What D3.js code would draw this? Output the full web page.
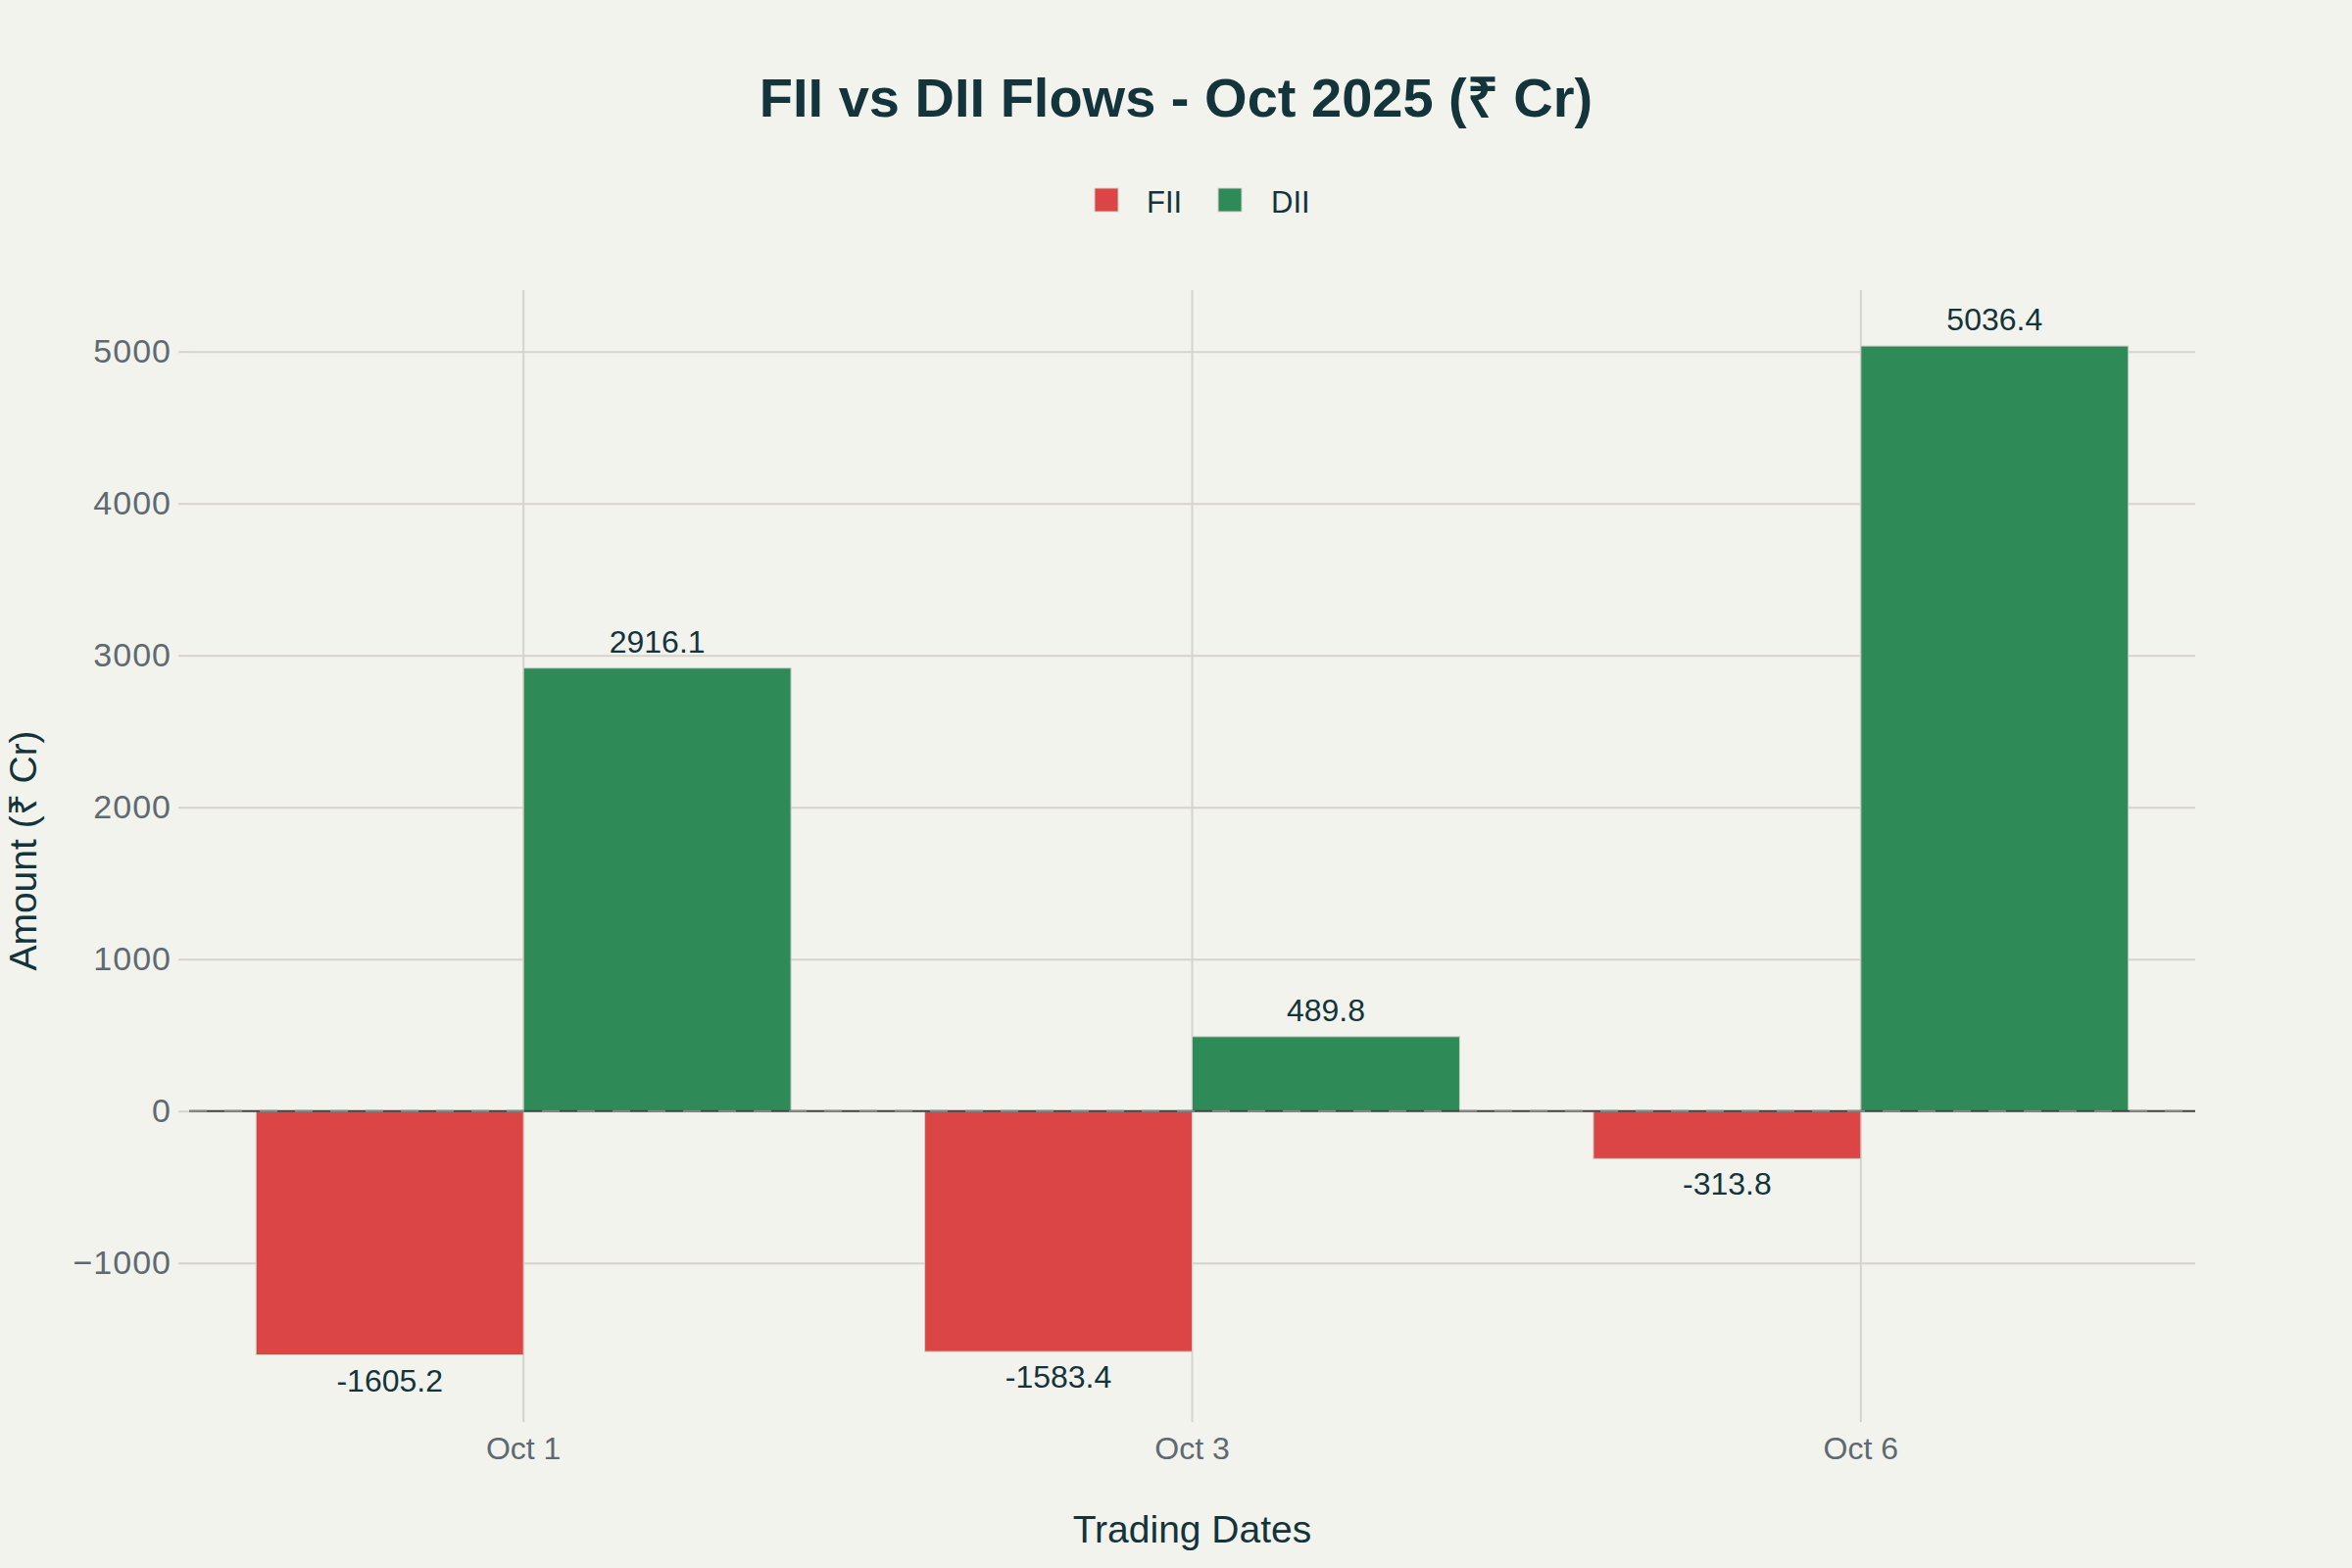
<!DOCTYPE html>
<html>
<head>
<meta charset="utf-8">
<script src="https://cdn.jsdelivr.net/npm/d3@7"></script>
<style>
  html, body { margin: 0; padding: 0; background: #F3F3EE; }
  svg { display: block; }
  text { font-family: "Liberation Sans", Arial, sans-serif; }
</style>
</head>
<body>
<script>
// ---- Data ----
const categories = ["Oct 1", "Oct 3", "Oct 6"];
const seriesNames = ["FII", "DII"];
const fiiValues = [-1605.2, -1583.4, -313.8];
const diiValues = [2916.1, 489.8, 5036.4];
const yTickValues = [-1000, 0, 1000, 2000, 3000, 4000, 5000];
const titleText = "FII vs DII Flows - Oct 2025 (₹ Cr)";
const xTitleText = "Trading Dates";
const yTitleText = "Amount (₹ Cr)";

// ---- Layout ----
const W = 2400, H = 1600;
const plot = { left: 193, right: 2240, top: 296, bottom: 1440 };
const colors = { FII: "#DB4545", DII: "#2E8B57" };
const textDark = "#13343B";
const tickGray = "#5F6A70";
const gridColor = "#D6D3CD";

const svg = d3.select("body").append("svg").attr("width", W).attr("height", H);
svg.append("rect").attr("width", W).attr("height", H).attr("fill", "#F3F3EE");

const x = d3.scaleBand().domain(categories).range([plot.left, plot.right]).paddingInner(0).paddingOuter(0);
const xSub = d3.scaleBand().domain(seriesNames).range([0, x.bandwidth()]).paddingInner(0).paddingOuter(0.25);
const y = d3.scaleLinear().domain([-1976, 5404.5]).range([plot.bottom, plot.top]);

const rows = categories.map((c, i) => ({ cat: c, FII: fiiValues[i], DII: diiValues[i] }));

// ---- Grid ----
const yGrid = svg.append("g").attr("transform", `translate(${plot.left},0)`)
  .call(d3.axisLeft(y).tickValues(yTickValues).tickSize(-(plot.right - plot.left)).tickFormat(""));
yGrid.select(".domain").remove();
yGrid.selectAll("line").attr("stroke", gridColor).attr("stroke-width", 2);

const xGrid = svg.append("g").attr("transform", `translate(0,${plot.bottom})`)
  .call(d3.axisBottom(x).tickSize(-(plot.bottom - plot.top)).tickFormat(""));
xGrid.select(".domain").remove();
xGrid.selectAll("line").attr("stroke", gridColor).attr("stroke-width", 2);

// ---- Bars ----
const groups = svg.append("g").selectAll("g").data(rows).join("g")
  .attr("transform", d => `translate(${x(d.cat)},0)`);
groups.selectAll("rect").data(d => seriesNames.map(s => ({ s, v: d[s] }))).join("rect")
  .attr("x", d => xSub(d.s))
  .attr("width", xSub.bandwidth())
  .attr("y", d => y(Math.max(0, d.v)))
  .attr("height", d => Math.abs(y(d.v) - y(0)))
  .attr("fill", d => colors[d.s])
  .attr("stroke", "#D2CFC8")
  .attr("stroke-width", 1);

// ---- Zero line ----
svg.append("line").attr("x1", plot.left).attr("x2", plot.right).attr("y1", y(0)).attr("y2", y(0))
  .attr("stroke", "#444444").attr("stroke-width", 2);
svg.append("line").attr("x1", plot.left).attr("x2", plot.right).attr("y1", y(0)).attr("y2", y(0))
  .attr("stroke", "#888888").attr("stroke-width", 2).attr("stroke-dasharray", "18,18");

// ---- Data labels ----
groups.selectAll("text.val").data(d => seriesNames.map(s => ({ s, v: d[s] }))).join("text")
  .attr("class", "val")
  .attr("x", d => xSub(d.s) + xSub.bandwidth() / 2)
  .attr("y", d => d.v >= 0 ? y(d.v) - 16 : y(d.v) + 37)
  .attr("text-anchor", "middle")
  .attr("font-size", 32)
  .attr("fill", textDark)
  .text(d => d.v.toFixed(1));

// ---- Axes ----
const yAxis = svg.append("g").attr("transform", `translate(${plot.left},0)`)
  .call(d3.axisLeft(y).tickValues(yTickValues).tickSize(11).tickPadding(7).tickFormat(d3.format("d")));
yAxis.select(".domain").remove();
yAxis.selectAll("line").attr("stroke", gridColor).attr("stroke-width", 2);
yAxis.selectAll("text").attr("font-size", 34).attr("letter-spacing", 1).attr("fill", tickGray)
  .attr("font-family", "'Liberation Sans', Arial, sans-serif");

const xAxis = svg.append("g").attr("transform", `translate(0,${plot.bottom})`)
  .call(d3.axisBottom(x).tickSize(11).tickPadding(15));
xAxis.select(".domain").remove();
xAxis.selectAll("line").attr("stroke", gridColor).attr("stroke-width", 2);
xAxis.selectAll("text").attr("font-size", 32).attr("fill", tickGray)
  .attr("font-family", "'Liberation Sans', Arial, sans-serif");

// ---- Titles ----
svg.append("text").attr("x", 1200).attr("y", 119).attr("text-anchor", "middle")
  .attr("font-size", 56).attr("font-weight", "bold").attr("fill", textDark).text(titleText);

svg.append("text").attr("x", (plot.left + plot.right) / 2).attr("y", 1574).attr("text-anchor", "middle")
  .attr("font-size", 39).attr("fill", textDark).text(xTitleText);

svg.append("text").attr("transform", `translate(37,${(plot.top + plot.bottom) / 2}) rotate(-90)`)
  .attr("text-anchor", "middle").attr("font-size", 39).attr("fill", textDark).text(yTitleText);

// ---- Legend ----
const legendItems = [
  { name: seriesNames[0], sx: 1117, tx: 1170 },
  { name: seriesNames[1], sx: 1243, tx: 1297 }
];
const lg = svg.append("g");
lg.selectAll("rect").data(legendItems).join("rect")
  .attr("x", d => d.sx).attr("y", 192).attr("width", 24).attr("height", 24)
  .attr("fill", d => colors[d.name]).attr("stroke", "#D2CFC8").attr("stroke-width", 1);
lg.selectAll("text").data(legendItems).join("text")
  .attr("x", d => d.tx).attr("y", 216.5).attr("font-size", 31).attr("fill", textDark)
  .text(d => d.name);
</script>
</body>
</html>
